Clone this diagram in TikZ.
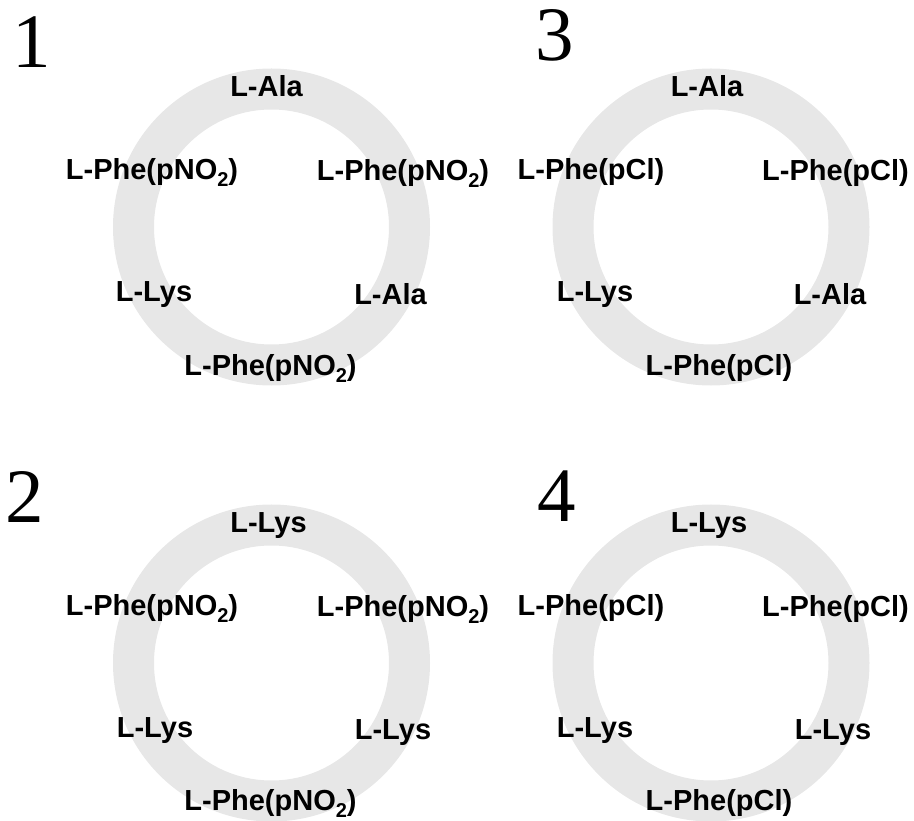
\documentclass[tikz,border=0pt]{standalone}
\usepackage{fontspec}
\setmainfont{Liberation Serif}
\setsansfont{Liberation Sans}
\definecolor{ringgray}{gray}{0.905}
\tikzset{
  ring/.style={draw=ringgray, line width=41pt},
  aa/.style={anchor=base, inner sep=0pt, font=\sffamily\bfseries\fontsize{29}{30}\selectfont},
  num/.style={anchor=base west, inner sep=0pt, font=\rmfamily\fontsize{77}{80}\selectfont}
}
\newcommand{\subtwo}{\raisebox{-7pt}{\fontsize{20}{20}\selectfont 2}}
\newcommand{\pno}{L-Phe(pNO\subtwo)}
\newcommand{\pcl}{L-Phe(pCl)}
\begin{document}
\begin{tikzpicture}[x=1pt,y=-1pt]
\useasboundingbox (0,0) rectangle (914,821);
% rings
\draw[ring] (271.5,227) circle (138);
\draw[ring] (711,227) circle (138);
\draw[ring] (271.5,663) circle (138);
\draw[ring] (711,663) circle (138);
% numbers
\node[num] (n1) at (12,68) {1};
\node[num] (n3) at (535,61) {3};
\node[num] (n2) at (5,522) {2};
\node[num] (n4) at (537,521) {4};
% ring 1
\node[aa] (a1) at (266.5,97) {L-Ala};
\node[aa] (a2) at (152,180) {\pno};
\node[aa] (a3) at (403,181) {\pno};
\node[aa] (a4) at (154,302) {L-Lys};
\node[aa] (a5) at (390.5,305) {L-Ala};
\node[aa] (a6) at (270.5,375) {\pno};
% ring 3
\node[aa] (c1) at (707,97) {L-Ala};
\node[aa] (c2) at (591,180) {\pcl};
\node[aa] (c3) at (835.5,181) {\pcl};
\node[aa] (c4) at (595,302) {L-Lys};
\node[aa] (c5) at (830,305) {L-Ala};
\node[aa] (c6) at (719,375) {\pcl};
% ring 2
\node[aa] (b1) at (268.5,532) {L-Lys};
\node[aa] (b2) at (152,615) {\pno};
\node[aa] (b3) at (403,616) {\pno};
\node[aa] (b4) at (155,737) {L-Lys};
\node[aa] (b5) at (393,739) {L-Lys};
\node[aa] (b6) at (270.5,810) {\pno};
% ring 4
\node[aa] (d1) at (709,532) {L-Lys};
\node[aa] (d2) at (591,615) {\pcl};
\node[aa] (d3) at (835.5,616) {\pcl};
\node[aa] (d4) at (595,737) {L-Lys};
\node[aa] (d5) at (833,739) {L-Lys};
\node[aa] (d6) at (719,810) {\pcl};
\end{tikzpicture}
\end{document}
